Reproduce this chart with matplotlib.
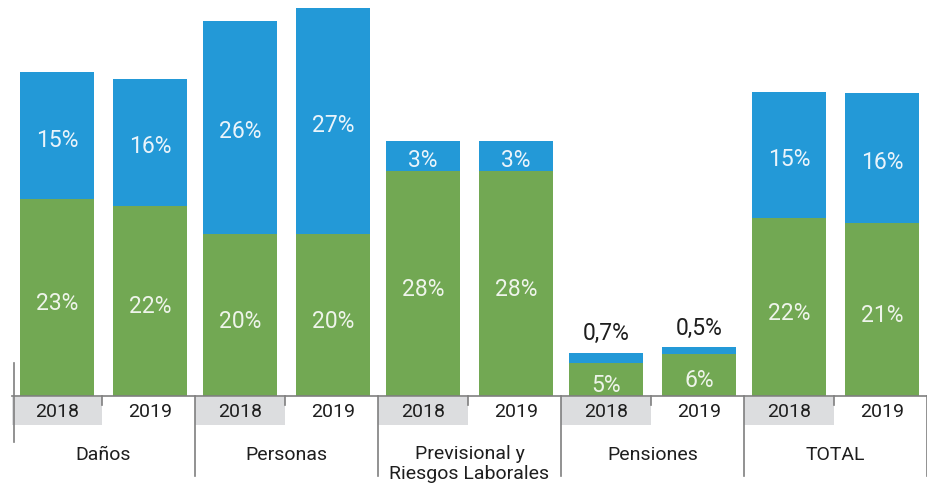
import matplotlib
matplotlib.use("Agg")
import matplotlib.pyplot as plt
import numpy as np

groups = ["Daños", "Personas", "Previsional y\nRiesgos Laborales", "Pensiones", "TOTAL"]
years = ["2018", "2019"]

# bar heights (in %), green = bottom, blue = top
green = [23.7, 22.9, 19.5, 19.5, 27.1, 27.1, 4.0, 5.1, 21.4, 20.8]
blue = [15.3, 15.3, 25.7, 27.3, 3.6, 3.6, 1.2, 0.8, 15.2, 15.7]
green_labels = ["23%", "22%", "20%", "20%", "28%", "28%", "5%", "6%", "22%", "21%"]
blue_labels = ["15%", "16%", "26%", "27%", "3%", "3%", "0,7%", "0,5%", "15%", "16%"]

GREEN = "#72a853"
BLUE = "#2399d7"
GREY_BOX = "#dcdddf"
LINE = "#7f7f7f"
TEXT = "#1e1e1e"

plt.rcParams["font.family"] = ["Roboto", "DejaVu Sans"]

W, H = 928, 489
fig = plt.figure(figsize=(W / 100, H / 100), dpi=100)
base_px = 397
scale = 8.3  # px per %
ax = fig.add_axes([12 / W, (H - base_px) / H, 915 / W, base_px / H])
ax.set_xlim(-0.5, 4.5)
ax.set_ylim(0, base_px / scale)
ax.axis("off")


def py(px):
    # pixel offset below baseline -> data y
    return -px / scale


off = 0.254
width = 0.404
x = []
for g in range(len(groups)):
    x += [g - off, g + off]
x = np.array(x)

ax.bar(x, green, width=width, color=GREEN, linewidth=0)
ax.bar(x, blue, width=width, bottom=green, color=BLUE, linewidth=0)

for i in range(len(x)):
    ax.text(x[i], green[i] / 2 - 0.6, green_labels[i], ha="center", va="center",
            color="#eef4ea", fontsize=16.5)
    if blue[i] > 2.5:
        ax.text(x[i], green[i] + blue[i] / 2 - 0.4, blue_labels[i], ha="center", va="center",
                color="#eaf4fb", fontsize=16.5)
    else:
        ax.text(x[i], green[i] + blue[i] + 2.4, blue_labels[i], ha="center", va="center",
                color=TEXT, fontsize=16.5)

# category axis below the bars
for g in range(len(groups)):
    ax.add_patch(plt.Rectangle((g - 0.5, py(29)), 0.49, -py(29) - 0.12,
                               facecolor=GREY_BOX, edgecolor="none", clip_on=False))
    ax.plot([g - 0.01, g - 0.01], [0, py(9)], color=LINE, lw=1.2, clip_on=False)
    ax.text(g - off, py(15), years[0], ha="center", va="center", color=TEXT,
            fontsize=14, clip_on=False)
    ax.text(g + off, py(15), years[1], ha="center", va="center", color=TEXT,
            fontsize=14, clip_on=False)
    ax.text(g, py(58 if "\n" not in groups[g] else 67), groups[g], ha="center", va="center",
            color=TEXT, fontsize=14, linespacing=1.15, clip_on=False)

ax.plot([-0.5, 4.5], [0, 0], color=LINE, lw=1.2, clip_on=False)
ax.plot([-0.49, -0.49], [py(-33), py(46)], color=LINE, lw=1.2, clip_on=False)
for g in range(1, len(groups) + 1):
    ax.plot([g - 0.5, g - 0.5], [0, py(80)], color=LINE, lw=1.2, clip_on=False)

fig.savefig("out.png", dpi=100)
